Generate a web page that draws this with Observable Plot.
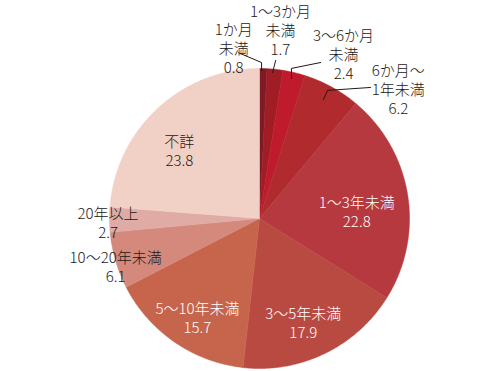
<!DOCTYPE html>
<html><head><meta charset="utf-8">
<script src="https://cdn.jsdelivr.net/npm/d3@7"></script>
<script src="https://cdn.jsdelivr.net/npm/@observablehq/plot@0.6"></script>
<style>
html,body{margin:0;padding:0;background:#fff;}
#chart svg{display:block;}
</style>
</head><body><div id="chart"></div>
<script>
// ---- data ----
const categories = ["1か月未満","1～3か月未満","3～6か月未満","6か月～1年未満","1～3年未満","3～5年未満","5～10年未満","10～20年未満","20年以上","不詳"];
const labelTexts = ["1か月\n未満","1～3か月\n未満","3～6か月\n未満","6か月～\n1年未満","1～3年未満","3～5年未満","5～10年未満","10～20年未満","20年以上","不詳"];
const values = [0.8, 1.7, 2.4, 6.2, 22.8, 17.9, 15.7, 6.1, 2.7, 23.8];
const colors = ["#7d1b24","#a01d26","#bf1b2c","#b12a2e","#b5393f","#b94a42","#c6654c","#d4897c","#e0aba4","#f1d1c5"];

// ---- layout (not data) ----
const W = 500, H = 371, CX = 259, CY = 218, R = 150;
const DARK = "#231815";
// label placement relative to the slice mid-angle: angle offset (deg), radius factor, text colour
const labelLayout = [
  {da: -10,  r: 1.153, fill: DARK},
  {da: 0.4,  r: 1.268, fill: DARK},
  {da: 13.7, r: 1.234, fill: DARK},
  {da: 18.1, r: 1.268, fill: DARK},
  {da: 5,    r: 0.65,  fill: "#fff"},
  {da: 3,    r: 0.75,  fill: "#fff"},
  {da: -2.5, r: 0.78,  fill: "#fff"},
  {da: -2,   r: 1.01,  fill: DARK},
  {da: -1,   r: 1.01,  fill: DARK},
  {da: -7,   r: 0.70,  fill: DARK}
];
// leader lines: [radius factor, angle offset from mid (deg)]
const leaderLayout = {
  0: [[0.987, -0.6], [1.04, -0.7], [1.113, -8.6]],
  1: [[0.977, -0.8], [1.059, -0.1]],
  2: [[0.957, -0.4], [1.023, -1.3], [1.117, 8.1]],
  3: [[0.90, -0.5], [0.967, -0.8], [1.145, 11.5]]
};

const arcs = d3.pie().sort(null).value(d => d)(values);
const rad = Math.PI / 180;
const pt = (a, r) => ({x: r * Math.sin(a), y: r * Math.cos(a)});

// slice polygons
const polys = [];
arcs.forEach((a, i) => {
  const n = Math.max(2, Math.ceil((a.endAngle - a.startAngle) / (0.5 * rad)));
  polys.push({name: categories[i], ...pt(0, 0)});
  for (let k = 0; k <= n; k++) {
    const t = a.startAngle + (a.endAngle - a.startAngle) * k / n;
    polys.push({name: categories[i], ...pt(t, 1)});
  }
  polys.push({name: categories[i], ...pt(0, 0)});
});

const labels = arcs.map((a, i) => {
  const mid = (a.startAngle + a.endAngle) / 2 + labelLayout[i].da * rad;
  const p = pt(mid, labelLayout[i].r);
  return {name: categories[i], text: labelTexts[i] + "\n" + values[i].toFixed(1), fill: labelLayout[i].fill, ...p};
});

const leaders = [];
Object.entries(leaderLayout).forEach(([i, pts]) => {
  const a = arcs[+i];
  const mid = (a.startAngle + a.endAngle) / 2;
  pts.forEach(([r, da]) => leaders.push({name: categories[+i], ...pt(mid + da * rad, r)}));
});

const chart = Plot.plot({
  width: W, height: H,
  margin: 0,
  x: {domain: [-CX / R, (W - CX) / R], axis: null},
  y: {domain: [(CY - H) / R, CY / R], axis: null},
  color: {domain: categories, range: colors},
  style: {background: "#fff", fontFamily: "'Noto Sans CJK JP', 'Noto Sans', sans-serif"},
  marks: [
    Plot.line(polys, {x: "x", y: "y", z: "name", fill: "name", stroke: "name", strokeWidth: 0.5, curve: "linear"}),
    Plot.line(leaders, {x: "x", y: "y", z: "name", stroke: DARK, strokeWidth: 1}),
    Plot.text(labels.filter(d => d.fill === "#fff"), {x: "x", y: "y", text: "text", fill: "#fff", fontSize: 15, fontWeight: 300, lineHeight: 1.27}),
    Plot.text(labels.filter(d => d.fill !== "#fff"), {x: "x", y: "y", text: "text", fill: DARK, fontSize: 15, fontWeight: 300, lineHeight: 1.27})
  ]
});
document.getElementById("chart").appendChild(chart);
</script>
</body></html>
